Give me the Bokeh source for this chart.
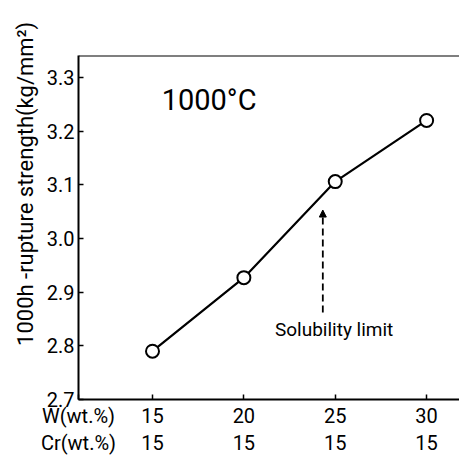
from bokeh.plotting import figure
from bokeh.models import FixedTicker, LinearAxis, Label, Arrow, NormalHead, Span, Range1d
from bokeh.embed import file_html
from bokeh.resources import INLINE

w_content = [15, 20, 25, 30]
cr_content = [15, 15, 15, 15]
strength = [2.790, 2.927, 3.106, 3.220]
y_ticks = [2.7, 2.8, 2.9, 3.0, 3.1, 3.2, 3.3]
y_tick_labels = ["2.7", "2.8", "2.9", "3.0", "3.1", "3.2", "3.3"]
row_titles = ["W(wt.%)", "Cr(wt.%)"]
y_title = "1000h -rupture strength(kg/mm²)"

FONT = "Roboto"
X_START, X_END = 10.95, 31.8
Y_START, Y_END = 2.7, 3.341

p = figure(width=459, height=457, output_backend="svg", toolbar_location=None,
           x_range=Range1d(X_START, X_END), y_range=Range1d(Y_START, Y_END),
           min_border_left=78, min_border_right=0, min_border_top=55, min_border_bottom=0)
p.grid.visible = False
p.outline_line_color = None

# y axis
p.yaxis.ticker = FixedTicker(ticks=y_ticks)
p.yaxis.major_label_overrides = {t: l for t, l in zip(y_ticks, y_tick_labels)}
p.yaxis.major_tick_in = 5
p.yaxis.major_tick_out = 0
p.yaxis.minor_tick_line_color = None
p.yaxis.axis_line_width = 2
p.yaxis.major_tick_line_width = 1.5
p.yaxis.major_label_text_font = FONT
p.yaxis.major_label_text_font_size = "20px"
p.yaxis.major_label_text_color = "black"
p.yaxis.major_label_standoff = 4
p.yaxis.axis_label = "\u00a0" * 16 + y_title
p.yaxis.axis_label_text_font = FONT
p.yaxis.axis_label_text_font_size = "22px"
p.yaxis.axis_label_text_font_style = "normal"
p.yaxis.axis_label_text_color = "black"
p.yaxis.axis_label_standoff = 6

# x axis (W row); the tick at the frame's left edge carries the row title
x_ticks = [X_START] + w_content
p.xaxis.ticker = FixedTicker(ticks=x_ticks)
p.xaxis.major_label_overrides = {X_START: row_titles[0], **{w: str(w) for w in w_content}}
p.xaxis.major_tick_in = 5
p.xaxis.major_tick_out = 0
p.xaxis.minor_tick_line_color = None
p.xaxis.axis_line_width = 2
p.xaxis.major_tick_line_width = 1.5
p.xaxis.major_label_text_font = FONT
p.xaxis.major_label_text_font_size = "20px"
p.xaxis.major_label_text_color = "black"
p.xaxis.major_label_standoff = 4
p.xaxis.axis_label_standoff = 0

# second row (Cr)
cr_axis = LinearAxis(ticker=FixedTicker(ticks=x_ticks),
                     major_label_overrides={X_START: row_titles[1],
                                            **{w: str(c) for w, c in zip(w_content, cr_content)}})
cr_axis.axis_line_color = None
cr_axis.major_tick_line_color = None
cr_axis.minor_tick_line_color = None
cr_axis.major_tick_in = 0
cr_axis.major_tick_out = 0
cr_axis.major_label_text_font = FONT
cr_axis.major_label_text_font_size = "20px"
cr_axis.major_label_text_color = "black"
cr_axis.major_label_standoff = 0
cr_axis.axis_label_standoff = 0
p.add_layout(cr_axis, "below")

# top border
p.add_layout(Span(location=Y_END, dimension="width", line_color="black", line_width=2))

p.line(w_content, strength, line_color="black", line_width=2.2)
p.scatter(w_content, strength, size=13, marker="circle", fill_color="white",
          line_color="black", line_width=2)

p.add_layout(Label(x=15.5, y=3.258, text="1000°C", text_font=FONT, text_font_size="29px",
                   text_baseline="middle", text_align="left", text_color="black"))
p.add_layout(Label(x=21.7, y=2.830, text="Solubility limit", text_font=FONT,
                   text_font_size="19px", text_baseline="middle", text_align="left",
                   text_color="black"))
p.add_layout(Arrow(x_start=24.32, y_start=2.862, x_end=24.32, y_end=3.053,
                   line_dash="7 4", line_width=1.8, line_color="black",
                   end=NormalHead(size=7, fill_color="black", line_color="black")))

open("out.html", "w").write(file_html(p, INLINE))
